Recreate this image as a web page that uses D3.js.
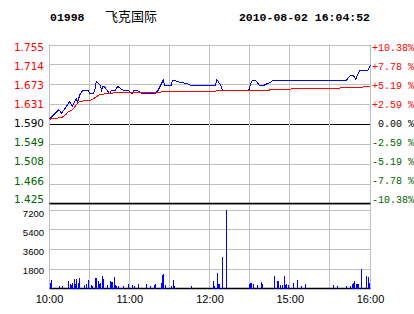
<!DOCTYPE html>
<html><head><meta charset="utf-8">
<script src="https://cdn.jsdelivr.net/npm/d3@7"></script>
<style>
html,body{margin:0;padding:0;background:#fff;}
svg{display:block;}
text{white-space:pre;}
</style></head>
<body>
<script>
// ---- data ----
const stockCode = "01998";
const stockName = "飞克国际";
const stamp = "2010-08-02 16:04:52";
const prevClose = 1.590;

const timeTicks = [0, 60, 120, 180, 240];
const timeLabels = ["10:00", "11:00", "12:00", "15:00", "16:00"];

const priceTicks = [1.755, 1.714, 1.673, 1.631, 1.590, 1.549, 1.508, 1.466, 1.425];
const pctLabels = ["+10.38%", "+7.78 %", "+5.19 %", "+2.59 %", " 0.00 %", "-2.59 %", "-5.19 %", "-7.78 %", "-10.38%"];

const volTicks = [7200, 5400, 3600, 1800];

// minute offsets (trading minutes from 10:00) and prices
const priceMin = [0,7,9,15,17,20,21,23,25,29,30,33,34,35,38,39,40,41,43,45,46,49,51,53,55,59,62,63,66,68,70,79,81,83,85,86,91,92,95,98,103,106,124,125,126,128,129,130,149,151,154,157,160,163,165,167,222,225,227,229,230,232,238,240];
const priceVal = [1.600,1.620,1.612,1.636,1.627,1.642,1.636,1.653,1.660,1.660,1.653,1.653,1.662,1.679,1.670,1.660,1.668,1.668,1.660,1.653,1.659,1.659,1.668,1.664,1.660,1.659,1.653,1.659,1.659,1.655,1.653,1.653,1.659,1.670,1.681,1.670,1.670,1.681,1.679,1.676,1.674,1.670,1.670,1.681,1.679,1.670,1.662,1.660,1.660,1.679,1.681,1.670,1.670,1.674,1.676,1.681,1.681,1.691,1.691,1.683,1.691,1.701,1.701,1.712];

const avgMin = [0,4,9,12,14,17,19,22,24,27,32,34,37,39,47,48,81,84,86,124,125,164,165,180,181,232,235,240];
const avgVal = [1.600,1.602,1.603,1.609,1.615,1.619,1.626,1.636,1.637,1.639,1.640,1.645,1.650,1.652,1.653,1.655,1.655,1.657,1.658,1.658,1.660,1.660,1.661,1.661,1.664,1.665,1.667,1.668];

const volMin = [0,1,7,9,14,15,16,17,18,19,20,21,22,26,27,29,31,32,34,35,36,37,38,39,40,43,45,46,47,48,49,50,51,55,59,62,63,66,72,75,78,79,83,84,85,86,91,92,93,106,122,123,125,126,127,129,132,149,150,151,152,155,158,159,168,170,171,172,174,175,176,177,178,182,185,188,191,212,215,222,225,226,227,228,229,230,231,233,237,238,239];
const volVal = [520,765,215,215,675,400,275,490,830,370,890,460,950,305,400,735,305,245,920,920,675,400,520,1100,830,305,645,610,550,1010,305,215,215,215,400,305,215,400,400,215,305,400,520,1225,1320,305,215,765,245,215,705,215,1410,400,400,2910,7110,400,490,460,400,305,580,400,1130,675,675,305,305,1130,305,400,305,490,765,215,400,305,215,215,215,400,490,675,400,400,400,1780,1130,1040,520];

// ---- drawing ----
const W = 414, H = 314;
const svg = d3.select("body").append("svg").attr("width", W).attr("height", H);

const x = d3.scaleLinear().domain([0, 240]).range([49.5, 370.5]);
const y = d3.scaleLinear().domain([1.425, 1.755]).range([203.5, 44.5]);
const yLab = d3.scaleLinear().domain([1.425, 1.755]).range([199.7, 47.5]);
const yv = d3.scaleLinear().domain([0, 7200]).range([288.5, 209.5]);
const yvLab = d3.scaleLinear().domain([1800, 7200]).range([270.5, 214]);

const grid = "#c0c0c0";
const g = svg.append("g");

// horizontal price gridlines
g.selectAll("line.hp").data(priceTicks).join("line")
  .attr("x1", x(0)).attr("x2", x(240))
  .attr("y1", d => Math.round(y(d)) + 0.5).attr("y2", d => Math.round(y(d)) + 0.5)
  .attr("stroke", d => (d === prevClose) ? "#000" : grid)
  .attr("stroke-width", 1);

// horizontal volume gridlines
g.selectAll("line.hv").data(volTicks).join("line")
  .attr("x1", x(0)).attr("x2", x(240))
  .attr("y1", d => Math.round(yv(d)) + 0.5).attr("y2", d => Math.round(yv(d)) + 0.5)
  .attr("stroke", grid);

// vertical gridlines
g.selectAll("line.v").data(d3.range(0, 241, 30)).join("line")
  .attr("x1", d => Math.round(x(d)) - 0.5).attr("x2", d => Math.round(x(d)) - 0.5)
  .attr("y1", y(1.755)).attr("y2", yv(0))
  .attr("stroke", grid);

// bottom black borders
g.append("line").attr("x1", x(0)).attr("x2", x(240))
  .attr("y1", y(1.425)).attr("y2", y(1.425)).attr("stroke", "#000").attr("stroke-width", 1.6);
g.append("line").attr("x1", x(0)).attr("x2", x(240))
  .attr("y1", yv(0)).attr("y2", yv(0)).attr("stroke", "#000").attr("stroke-width", 1.6);

// volume bars
svg.append("g").selectAll("rect").data(volMin).join("rect")
  .attr("x", (d) => Math.round(x(d)) - 0.5)
  .attr("width", 1)
  .attr("y", (d, i) => yv(volVal[i]))
  .attr("height", (d, i) => yv(0) - yv(volVal[i]))
  .attr("fill", "#0000ff")
  .attr("shape-rendering", "crispEdges");

// price line and average line
const priceLine = d3.line().x(d => x(d[0])).y(d => y(d[1]));
svg.append("path").datum(priceMin.map((m, i) => [m, priceVal[i]]))
  .attr("d", priceLine).attr("fill", "none").attr("stroke", "#0000ff").attr("stroke-width", 1)
  .attr("shape-rendering", "crispEdges");
svg.append("path").datum(avgMin.map((m, i) => [m, avgVal[i]]))
  .attr("d", priceLine).attr("fill", "none").attr("stroke", "#ff0000").attr("stroke-width", 1)
  .attr("shape-rendering", "crispEdges");

const colorFor = v => v > prevClose ? "#ff0000" : (v < prevClose ? "#006400" : "#000");

// left price labels
svg.append("g").selectAll("text").data(priceTicks).join("text")
  .attr("x", 44).attr("y", d => yLab(d)).attr("dy", "0.36em")
  .attr("text-anchor", "end")
  .attr("font-family", "DejaVu Sans").attr("font-size", 10.5)
  .attr("fill", colorFor)
  .text(d => d.toFixed(3));

// right pct labels
svg.append("g").selectAll("text").data(priceTicks).join("text")
  .attr("x", 372).attr("y", d => yLab(d)).attr("dy", "0.36em")
  .attr("font-family", "Liberation Mono").attr("font-size", 10)
  .attr("fill", colorFor)
  .text((d, i) => pctLabels[i]);

// volume labels
svg.append("g").selectAll("text").data(volTicks).join("text")
  .attr("x", 44).attr("y", d => yvLab(d)).attr("dy", "0.36em")
  .attr("text-anchor", "end")
  .attr("font-family", "Liberation Sans").attr("font-size", 9.5)
  .attr("fill", "#000")
  .text(d => d);

// time labels
svg.append("g").selectAll("text").data(timeTicks).join("text")
  .attr("x", d => x(d)).attr("y", 303)
  .attr("text-anchor", "middle")
  .attr("font-family", "Liberation Sans").attr("font-size", 11)
  .attr("fill", "#000")
  .text((d, i) => timeLabels[i]);

// header
svg.append("text").attr("x", 50).attr("y", 21)
  .attr("font-family", "Liberation Mono").attr("font-weight", "bold").attr("font-size", 11.5)
  .text(stockCode);
svg.append("text").attr("x", 105).attr("y", 20.5)
  .attr("font-family", "Noto Sans CJK SC").attr("font-size", 13)
  .text(stockName);
svg.append("text").attr("x", 370).attr("y", 21).attr("text-anchor", "end")
  .attr("font-family", "Liberation Mono").attr("font-weight", "bold").attr("font-size", 11.5)
  .text(stamp);
</script>
</body></html>
